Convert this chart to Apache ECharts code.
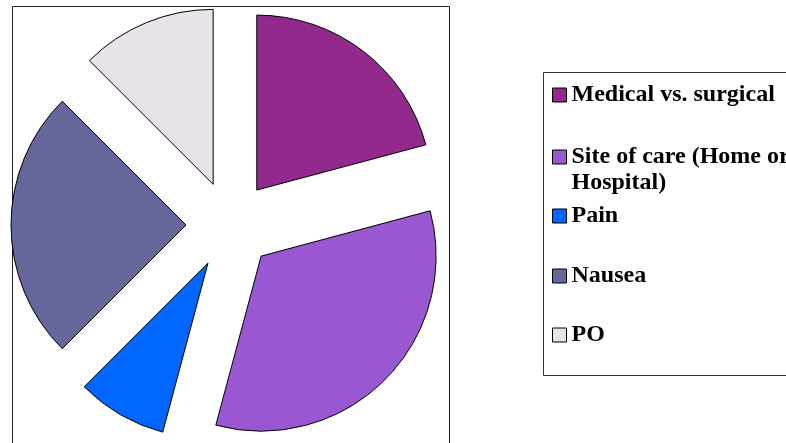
<!DOCTYPE html>
<html>
<head>
<meta charset="utf-8">
<script src="https://cdn.jsdelivr.net/npm/echarts@6/dist/echarts.min.js"></script>
<style>html,body{margin:0;padding:0;background:#fff}#c{width:786px;height:443px}</style>
</head>
<body>
<div id="c"></div>
<script>
const categories = ['Medical vs. surgical', 'Site of care (Home or Hospital)', 'Pain', 'Nausea', 'PO'];
const legendLines = [['Medical vs. surgical'], ['Site of care (Home or', 'Hospital)'], ['Pain'], ['Nausea'], ['PO']];
const values = [5, 8, 2, 6, 3];
const colors = ['#922A8E', '#9957D2', '#0066FF', '#65669A', '#E8E4EA'];
const legendCenters = [95, 157, 216, 276, 335];

const chart = echarts.init(document.getElementById('c'), null, {renderer: 'canvas'});
const LH = 26;
const font = {fontFamily: 'Liberation Serif', fontWeight: 'bold', fontSize: 24, color: '#000', lineHeight: LH};

const legends = categories.map((name, i) => {
  const lines = legendLines[i];
  const multi = lines.length > 1;
  // for multi-line entries, a blank spacer line on top keeps the marker level with the first line
  const text = multi ? '{p| }\n' + lines.map(l => '{a|' + l + '}').join('\n') : lines[0];
  const blockH = multi ? LH * (lines.length + 1) : LH;
  const firstCenter = multi ? LH + LH / 2 : LH / 2;
  return {
    orient: 'vertical', left: 552,
    top: legendCenters[i] - blockH / 2 + (blockH / 2 - firstCenter),
    padding: 0, itemWidth: 14, itemHeight: 14, icon: 'rect',
    selectedMode: false,
    data: [name],
    formatter: () => text,
    textStyle: Object.assign({}, font, {
      rich: {
        p: {fontSize: 10, lineHeight: LH},
        a: {fontFamily: 'Liberation Serif', fontWeight: 'bold', fontSize: 24, lineHeight: LH, color: '#000'}
      }
    }),
    itemStyle: {borderColor: '#000', borderWidth: 1}
  };
});

chart.setOption({
  animation: false,
  color: colors,
  legend: legends,
  graphic: [
    {type: 'rect', shape: {x: 12.5, y: 6.5, width: 437, height: 460}, style: {fill: 'none', stroke: '#222', lineWidth: 1}, silent: true, z: -1},
    {type: 'rect', shape: {x: 543.5, y: 72.5, width: 260, height: 303}, style: {fill: 'none', stroke: '#333', lineWidth: 1}, silent: true, z: -1}
  ],
  series: [{
    type: 'pie',
    center: [230, 225],
    radius: [0, 175],
    startAngle: 90,
    clockwise: true,
    selectedMode: 'multiple',
    selectedOffset: 44,
    label: {show: false},
    labelLine: {show: false},
    emphasis: {disabled: true, scale: false},
    itemStyle: {borderColor: '#000', borderWidth: 1},
    data: categories.map((n, i) => ({name: n, value: values[i], selected: true}))
  }]
});
</script>
</body>
</html>
